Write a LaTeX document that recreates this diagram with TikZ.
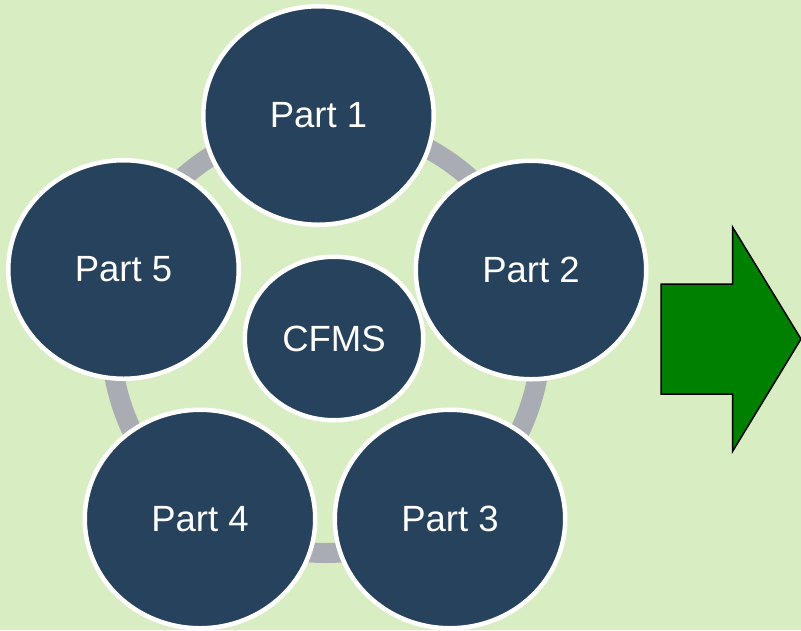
\documentclass[tikz,border=0pt]{standalone}
\usepackage{fontspec}
\setmainfont{Liberation Sans}
\usetikzlibrary{shapes.geometric}
\definecolor{bgc}{HTML}{D9EDC3}
\definecolor{navy}{HTML}{27425C}
\definecolor{ringc}{HTML}{A9ADB3}
\definecolor{arrg}{HTML}{008000}
\tikzset{
  part/.style={ellipse, fill=navy, draw=white, line width=4.5pt, inner sep=0pt,
    minimum width=230.5pt, minimum height=218.5pt, text=white,
    font=\fontsize{36.5}{42}\selectfont},
  hub/.style={part, minimum width=178.5pt, minimum height=163.5pt},
  ringline/.style={draw=ringc, line width=20pt},
  bigarrow/.style={fill=arrg, draw=black, line width=1.5pt, line join=miter}
}
\begin{document}
\begin{tikzpicture}[x=1pt,y=1pt]
\useasboundingbox[fill=bgc] (0,0) rectangle (801,-630);
\coordinate (rc) at (326,-338);
\draw[ringline] (rc) circle[radius=215];
\node[part] (p1) at (318.5,-115.5) {Part 1};
\node[part] (p2) at (531,-270) {Part 2};
\node[part] (p5) at (123.5,-269.5) {Part 5};
\node[part] (p4) at (200,-519) {Part 4};
\node[part] (p3) at (450,-519) {Part 3};
\node[hub] (c) at (334,-338.5) {CFMS};
\draw[bigarrow] (661,-284) -- (732.5,-284) -- (732.5,-227) -- (801,-339)
  -- (732.5,-451.5) -- (732.5,-394) -- (661,-394) -- cycle;
\end{tikzpicture}
\end{document}
